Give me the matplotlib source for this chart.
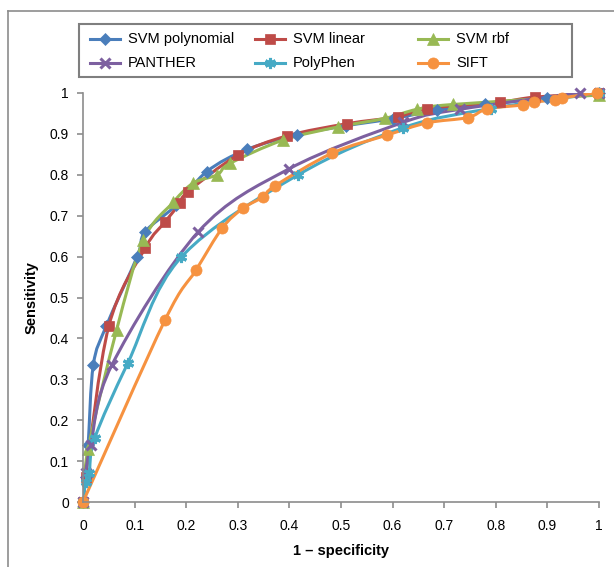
import matplotlib.pyplot as plt
from matplotlib.path import Path
from matplotlib.patches import PathPatch, Rectangle
from matplotlib.lines import Line2D

plt.rcParams['font.family'] = ['Liberation Sans', 'DejaVu Sans']

# ROC points: (1 - specificity, sensitivity)
svm_poly_x = [0, 0.005, 0.01, 0.02, 0.045, 0.105, 0.12, 0.18, 0.24, 0.318, 0.415, 0.51, 0.6, 0.686, 0.78, 0.9, 1.0]
svm_poly_y = [0, 0.06, 0.14, 0.335, 0.43, 0.60, 0.66, 0.725, 0.808, 0.862, 0.898, 0.92, 0.937, 0.958, 0.972, 0.988, 1.0]

svm_lin_x = [0, 0.005, 0.05, 0.12, 0.159, 0.188, 0.203, 0.30, 0.395, 0.512, 0.61, 0.667, 0.808, 0.876, 1.0]
svm_lin_y = [0, 0.06, 0.43, 0.62, 0.685, 0.73, 0.758, 0.848, 0.895, 0.925, 0.942, 0.962, 0.978, 0.99, 1.0]

svm_rbf_x = [0, 0.01, 0.065, 0.117, 0.175, 0.214, 0.26, 0.285, 0.388, 0.494, 0.585, 0.647, 0.717, 1.0]
svm_rbf_y = [0, 0.13, 0.42, 0.64, 0.733, 0.78, 0.80, 0.828, 0.885, 0.917, 0.938, 0.96, 0.972, 0.995]

panther_x = [0, 0.005, 0.015, 0.056, 0.223, 0.40, 0.62, 0.73, 0.963, 1.0]
panther_y = [0, 0.07, 0.14, 0.335, 0.66, 0.815, 0.928, 0.96, 1.0, 1.0]

polyphen_x = [0, 0.005, 0.012, 0.023, 0.087, 0.19, 0.417, 0.62, 0.79, 1.0]
polyphen_y = [0, 0.05, 0.07, 0.157, 0.34, 0.598, 0.80, 0.915, 0.962, 1.0]

sift_x = [0, 0.159, 0.219, 0.27, 0.31, 0.349, 0.372, 0.483, 0.589, 0.667, 0.746, 0.783, 0.853, 0.874, 0.915, 0.928, 0.996]
sift_y = [0, 0.445, 0.567, 0.67, 0.718, 0.746, 0.773, 0.853, 0.897, 0.927, 0.94, 0.961, 0.971, 0.978, 0.983, 0.988, 1.0]

series = [
    ('SVM polynomial', svm_poly_x, svm_poly_y, '#4A7EBB', 'D', 6),
    ('SVM linear', svm_lin_x, svm_lin_y, '#BE4B48', 's', 7),
    ('SVM rbf', svm_rbf_x, svm_rbf_y, '#98B954', '^', 8),
    ('PANTHER', panther_x, panther_y, '#7D60A0', 'x', 7),
    ('PolyPhen', polyphen_x, polyphen_y, '#46AAC5', (6, 2, 0), 8),
    ('SIFT', sift_x, sift_y, '#F69240', 'o', 8),
]

W, H = 614, 567


# excel-style smoothed line: cubic bezier segments through the points
def smooth_path(xs, ys):
    pts = list(zip(xs, ys))
    n = len(pts)
    verts = [pts[0]]
    codes = [Path.MOVETO]
    for i in range(n - 1):
        p0 = pts[i - 1] if i > 0 else pts[i]
        p1 = pts[i]
        p2 = pts[i + 1]
        p3 = pts[i + 2] if i + 2 < n else pts[i + 1]
        c1 = (p1[0] + (p2[0] - p0[0]) / 6, p1[1] + (p2[1] - p0[1]) / 6)
        c2 = (p2[0] - (p3[0] - p1[0]) / 6, p2[1] - (p3[1] - p1[1]) / 6)
        verts += [c1, c2, p2]
        codes += [Path.CURVE4] * 3
    return Path(verts, codes)


fig = plt.figure(figsize=(6.14, 5.67), dpi=100)
ax = fig.add_axes([83 / W, 1 - 502 / H, 516 / W, 409 / H])

for name, xs, ys, col, mk, ms in series:
    ax.add_patch(PathPatch(smooth_path(xs, ys), fill=False, edgecolor=col, lw=2.2,
                           capstyle='round', joinstyle='round'))
    mew = 2.2 if mk in ('x', (6, 2, 0)) else 0.5
    ax.plot(xs, ys, ls='none', marker=mk, ms=ms, color=col, mec=col, mew=mew, clip_on=False)

ax.set_xlim(0, 1)
ax.set_ylim(0, 1)
ax.set_xticks([i / 10 for i in range(11)])
ax.set_yticks([i / 10 for i in range(11)])
ax.set_xticklabels(['0', '0.1', '0.2', '0.3', '0.4', '0.5', '0.6', '0.7', '0.8', '0.9', '1'])
ax.set_yticklabels(['0', '0.1', '0.2', '0.3', '0.4', '0.5', '0.6', '0.7', '0.8', '0.9', '1'])
for s in ('top', 'right'):
    ax.spines[s].set_visible(False)
for s in ('left', 'bottom'):
    ax.spines[s].set_color('#8C8C8C')
    ax.spines[s].set_linewidth(1.2)
ax.tick_params(colors='#8C8C8C', labelcolor='black', labelsize=10, length=4, width=1.2)
ax.tick_params(axis='x', pad=8)
ax.tick_params(axis='y', pad=6)
ax.set_xlabel('1 – specificity', fontsize=10.5, fontweight='bold', labelpad=8)
ax.set_ylabel('Sensitivity', fontsize=10.5, fontweight='bold', labelpad=8)

# legend drawn by hand, row-wise like the excel one
fig.add_artist(Rectangle((79 / W, 1 - 77 / H), 493 / W, 53 / H, transform=fig.transFigure,
                         fill=False, edgecolor='#7F7F7F', lw=1.5))
col_x = [90, 255, 418]
row_y = [39, 63]
for i, (name, xs, ys, col, mk, ms) in enumerate(series):
    x0 = col_x[i % 3]
    y0 = 1 - row_y[i // 3] / H
    mew = 2.2 if mk in ('x', (6, 2, 0)) else 0.5
    fig.add_artist(Line2D([x0 / W, (x0 + 30) / W], [y0, y0], color=col, lw=2.2))
    fig.add_artist(Line2D([(x0 + 15) / W], [y0], ls='none', marker=mk, ms=ms,
                          color=col, mec=col, mew=mew))
    fig.text((x0 + 38) / W, y0, name, fontsize=10.5, va='center', ha='left')

# outer frame of the original graphic (cut at right and bottom)
fig.add_artist(Line2D([8 / W, 8 / W], [0, 1 - 11 / H], color='#8C8C8C', lw=1.2))
fig.add_artist(Line2D([8 / W, 1], [1 - 11 / H, 1 - 11 / H], color='#8C8C8C', lw=1.2))

fig.savefig('out.png', dpi=100)
